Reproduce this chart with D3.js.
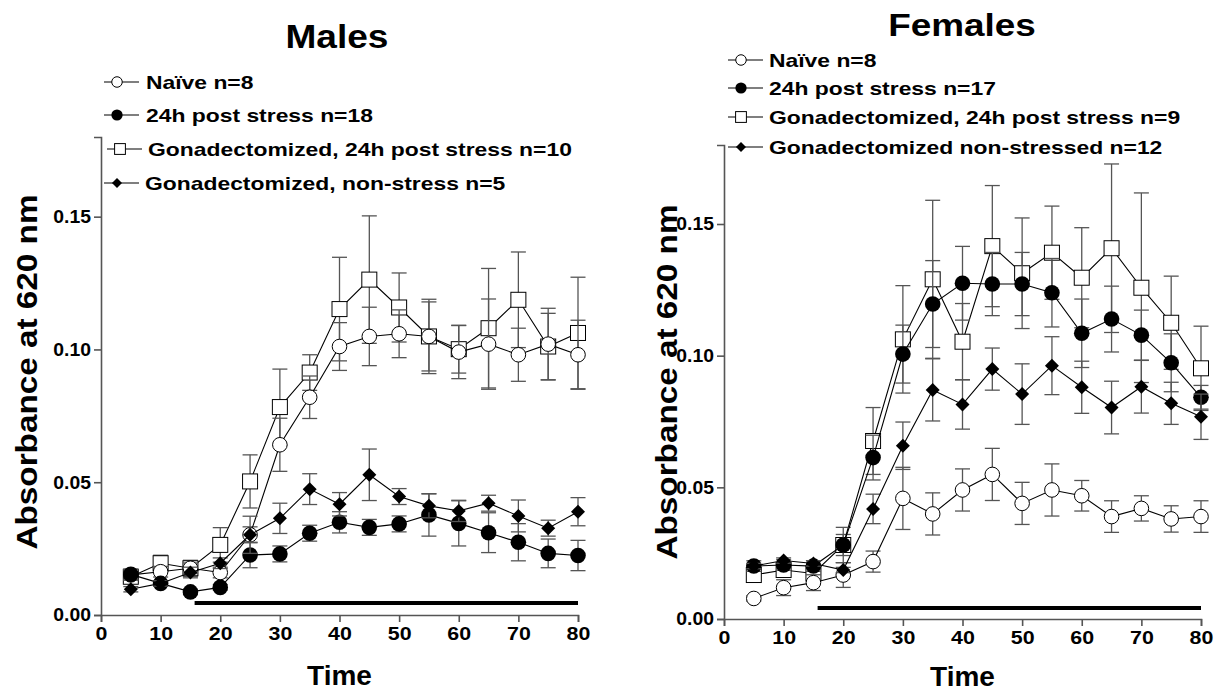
<!DOCTYPE html>
<html><head><meta charset="utf-8">
<script src="https://cdn.jsdelivr.net/npm/d3@7"></script>
<style>body{margin:0;background:#fff}svg{display:block}text{font-family:"Liberation Sans",Arial,sans-serif;font-weight:bold;fill:#000}</style>
</head><body><svg id="c" width="1215" height="691"></svg>
<script>
const times = [5,10,15,20,25,30,35,40,45,50,55,60,65,70,75,80];
const xTicks = [0,10,20,30,40,50,60,70,80];
const yTicks = [0,0.05,0.10,0.15];
const yTickLabels = ["0.00","0.05","0.10","0.15"];

// Males
const mNaive = [0.0151,0.0163,0.0176,0.0160,0.0302,0.0641,0.0820,0.1011,0.1049,0.1059,0.1049,0.0990,0.1020,0.0980,0.1020,0.0980];
const mNaiveErr = [0.002,0.002,0.002,0.002,0.003,0.010,0.008,0.009,0.011,0.009,0.013,0.010,0.017,0.010,0.0135,0.013];
const mStress = [0.0153,0.0119,0.0087,0.0104,0.0226,0.0230,0.0308,0.0349,0.0330,0.0343,0.0377,0.0345,0.0310,0.0274,0.0232,0.0224];
const mStressErr = [0.002,0.001,0.001,0.001,0.0048,0.003,0.003,0.004,0.003,0.003,0.008,0.0085,0.0075,0.007,0.0054,0.0057];
const mGdxStress = [0.0144,0.0195,0.0176,0.0264,0.0503,0.0783,0.0913,0.1152,0.1263,0.1158,0.1049,0.1001,0.1080,0.1187,0.1011,0.1062];
const mGdxStressErr = [0.002,0.003,0.003,0.0065,0.010,0.0143,0.0067,0.0195,0.024,0.013,0.014,0.009,0.0225,0.018,0.0125,0.021];
const mGdxNon = [0.0097,0.0119,0.0160,0.0195,0.0302,0.0364,0.0474,0.0417,0.0528,0.0446,0.0411,0.0392,0.0421,0.0373,0.0327,0.0389];
const mGdxNonErr = [0.001,0.001,0.002,0.002,0.007,0.0057,0.0058,0.0044,0.0097,0.003,0.0045,0.004,0.003,0.006,0.003,0.0053];

// Females
const fNaive = [0.0078,0.0119,0.0138,0.0167,0.0218,0.0458,0.0399,0.0490,0.0549,0.0439,0.0490,0.0468,0.0389,0.0420,0.0380,0.0389];
const fNaiveErr = [0.001,0.003,0.003,0.0047,0.004,0.0118,0.008,0.008,0.0099,0.008,0.0099,0.0058,0.006,0.0048,0.005,0.006];
const fStress = [0.0201,0.0205,0.0201,0.0281,0.0613,0.1006,0.1196,0.1275,0.1272,0.1272,0.1239,0.1085,0.1139,0.1078,0.0973,0.0842];
const fStressErr = [0.002,0.002,0.002,0.0067,0.0085,0.011,0.0165,0.014,0.012,0.012,0.013,0.013,0.0125,0.0095,0.011,0.0045];
const fGdxStress = [0.0167,0.0186,0.0173,0.0281,0.0676,0.1062,0.1290,0.1053,0.1416,0.1313,0.1391,0.1296,0.1408,0.1258,0.1125,0.0952];
const fGdxStressErr = [0.002,0.002,0.002,0.004,0.0127,0.0204,0.030,0.0145,0.023,0.021,0.0177,0.019,0.032,0.036,0.0177,0.016];
const fGdxNon = [0.0201,0.0222,0.0211,0.0186,0.0418,0.0658,0.0870,0.0815,0.0949,0.0854,0.0962,0.0880,0.0803,0.0882,0.0819,0.0768];
const fGdxNonErr = [0.001,0.001,0.001,0.001,0.0056,0.009,0.0118,0.0094,0.008,0.0115,0.011,0.0099,0.010,0.010,0.008,0.0086];

const mLegend = ["Naïve n=8","24h post stress n=18","Gonadectomized, 24h post stress n=10","Gonadectomized, non-stress n=5"];
const fLegend = ["Naïve n=8","24h post stress n=17","Gonadectomized, 24h post stress n=9","Gonadectomized non-stressed n=12"];
const stressPeriod = [15.7, 80];

const svg = d3.select("#c");

function stretch(sel, k) {
  sel.each(function(){
    const l = this.getComputedTextLength();
    d3.select(this).attr("textLength", l*k).attr("lengthAdjust","spacingAndGlyphs");
  });
}

function marker(g, type, cx, cy, s) {
  if (type === "circleOpen") g.append("circle").attr("cx",cx).attr("cy",cy).attr("r",7.3*s).attr("fill","#fff").attr("stroke","#000").attr("stroke-width",1);
  else if (type === "circleFill") g.append("circle").attr("cx",cx).attr("cy",cy).attr("r",7.8*s).attr("fill","#000");
  else if (type === "square") g.append("rect").attr("x",cx-7.5*s).attr("y",cy-7.5*s).attr("width",15*s).attr("height",15*s).attr("fill","#fff").attr("stroke","#000").attr("stroke-width",1);
  else if (type === "diamond") g.append("path").attr("d",`M${cx},${cy-7*s}L${cx+7*s},${cy}L${cx},${cy+7*s}L${cx-7*s},${cy}Z`).attr("fill","#000");
}

function panel(cfg) {
  const x = d3.scaleLinear().domain([0,80]).range([cfg.x0, cfg.x1]);
  const y = d3.scaleLinear().domain([0,0.18]).range([cfg.y0, cfg.yTop]);
  const g = svg.append("g");
  const xa = g.append("g").attr("transform",`translate(0,${cfg.y0})`)
    .call(d3.axisBottom(x).tickValues(xTicks).tickSize(7).tickPadding(5).tickFormat(d3.format("d")));
  const ya = g.append("g").attr("transform",`translate(${cfg.x0},0)`)
    .call(d3.axisLeft(y).tickValues(yTicks).tickSize(7).tickPadding(3).tickFormat((d,i)=>yTickLabels[i]));
  [xa,ya].forEach(a=>{
    a.select(".domain").attr("stroke","#555").attr("stroke-width",1.6);
    a.selectAll(".tick line").attr("stroke","#555").attr("stroke-width",1.6);
    a.selectAll(".tick text").attr("font-size",18.6).attr("font-family","Liberation Sans, Arial").attr("font-weight","bold").attr("fill","#000");
  });
  stretch(xa.selectAll(".tick text"), 1.15);
  stretch(ya.selectAll(".tick text"), 1.04);
  g.append("line").attr("x1",x(stressPeriod[0])).attr("x2",x(stressPeriod[1]))
    .attr("y1",cfg.barY).attr("y2",cfg.barY).attr("stroke","#000").attr("stroke-width",4);
  cfg.series.forEach(s=>{
    const sg = g.append("g");
    times.forEach((t,i)=>{
      const cx = x(t), lo = y(s.v[i]-s.e[i]), hi = y(s.v[i]+s.e[i]);
      sg.append("line").attr("x1",cx).attr("x2",cx).attr("y1",lo).attr("y2",hi).attr("stroke","#555").attr("stroke-width",1.3);
      [lo,hi].forEach(yy=>sg.append("line").attr("x1",cx-7.5).attr("x2",cx+7.5).attr("y1",yy).attr("y2",yy).attr("stroke","#555").attr("stroke-width",1.3));
    });
    sg.append("path").datum(s.v).attr("fill","none").attr("stroke","#000").attr("stroke-width",1.1)
      .attr("d", d3.line().x((d,i)=>x(times[i])).y(d=>y(d)));
    times.forEach((t,i)=>marker(sg, s.type, x(t), y(s.v[i]), 1));
  });
  const title = g.append("text").attr("x",cfg.titleX).attr("y",cfg.titleY).attr("text-anchor","middle").attr("font-size",cfg.titleSize).text(cfg.title);
  stretch(title, cfg.titleStretch);
  const yl = g.append("text").attr("transform",`translate(${cfg.yLabX},${cfg.yLabY}) rotate(-90)`).attr("text-anchor","middle")
    .attr("font-size",30).text("Absorbance at 620 nm");
  yl.attr("textLength", cfg.yLabLen).attr("lengthAdjust","spacingAndGlyphs");
  g.append("text").attr("x",(cfg.x0+cfg.x1)/2).attr("y",cfg.xLabY).attr("text-anchor","middle").attr("font-size",28).text("Time");
  const types = ["circleOpen","circleFill","square","diamond"];
  cfg.legend.forEach((lab,i)=>{
    const ly = cfg.legY[i], sx = cfg.legX[i];
    g.append("line").attr("x1",sx).attr("x2",sx+35).attr("y1",ly).attr("y2",ly).attr("stroke","#000").attr("stroke-width",1.1);
    marker(g, types[i], sx+13, ly, 0.72);
    const t = g.append("text").attr("x",sx+cfg.legGap[i]).attr("y",ly+6.6).attr("font-size",18.6).text(lab);
    stretch(t, 1.23);
  });
}

panel({x0:101,x1:578,y0:615,yTop:137,barY:603,title:"Males",titleX:337,titleY:47.5,titleSize:34,titleStretch:1.09,
  yLabX:36.5,yLabY:372,yLabLen:355,xLabY:685,
  legend:mLegend,legY:[82,115,149,183],legX:[104,104,107,104],legGap:[42,42,41,41],
  series:[{type:"square",v:mGdxStress,e:mGdxStressErr},{type:"circleOpen",v:mNaive,e:mNaiveErr},
          {type:"circleFill",v:mStress,e:mStressErr},{type:"diamond",v:mGdxNon,e:mGdxNonErr}]});
panel({x0:724,x1:1201,y0:619,yTop:145,barY:608,title:"Females",titleX:962,titleY:36,titleSize:31,titleStretch:1.19,
  yLabX:677,yLabY:382,yLabLen:355,xLabY:686,
  legend:fLegend,legY:[60,88,117,147],legX:[728,728,728,728],legGap:[41,41,41,41],
  series:[{type:"square",v:fGdxStress,e:fGdxStressErr},{type:"circleOpen",v:fNaive,e:fNaiveErr},
          {type:"circleFill",v:fStress,e:fStressErr},{type:"diamond",v:fGdxNon,e:fGdxNonErr}]});
</script></body></html>
